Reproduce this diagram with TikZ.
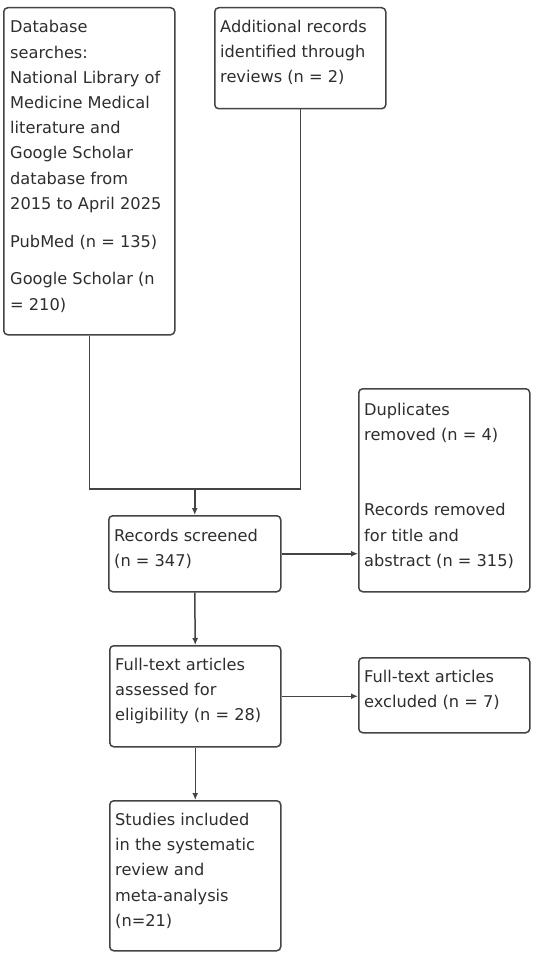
\documentclass[tikz,border=0pt]{standalone}
\usepackage{fontspec}
\setmainfont{DejaVu Sans}
\usetikzlibrary{arrows.meta,calc}
\definecolor{linec}{HTML}{444444}
\definecolor{textc}{HTML}{2E2E2E}
\newcommand{\boxtext}[1]{\parbox[t]{165pt}{\raggedright #1}}
\tikzset{
  box/.style={draw=linec, line width=1.5pt, rounded corners=4pt, fill=white, inner sep=0pt, anchor=north west},
  txt/.style={anchor=base west, inner sep=0pt, text=textc,
    font=\fontsize{16.2pt}{25.2pt}\selectfont},
  conn/.style={draw=linec, line width=1.5pt},
  arr/.style={conn, -{Latex[length=7pt,width=6pt]}},
}
\begin{document}
\begin{tikzpicture}[x=1pt,y=-1pt]
\useasboundingbox (0,0) rectangle (544,960);
\fill[white] (0,0) rectangle (544,960);

% boxes
\node[box, minimum width=171pt, minimum height=327pt] (db) at (3,7) {};
\node[box, minimum width=171pt, minimum height=101pt] (ab) at (214,7) {};
\node[box, minimum width=172pt, minimum height=76pt] (scr) at (108,515) {};
\node[box, minimum width=171pt, minimum height=203pt] (rem) at (358,388) {};
\node[box, minimum width=171pt, minimum height=101pt] (ft) at (109,645) {};
\node[box, minimum width=171pt, minimum height=75pt] (ex) at (358,657) {};
\node[box, minimum width=171pt, minimum height=150pt] (st) at (109,800) {};

% texts
\node[txt] (dbt) at ($(db.north west)+(7,26)$) {\boxtext{Database\\searches:\\National Library of\\Medicine Medical\\literature and\\Google Scholar\\database from\\2015 to April 2025\\[12.6pt]PubMed (n = 135)\\[12.6pt]Google Scholar (n\\= 210)}};
\node[txt] (abt) at ($(ab.north west)+(6,25.5)$) {\boxtext{Additional records\\identified through\\reviews (n = 2)}};
\node[txt] (scrt) at ($(scr.north west)+(6,26)$) {\boxtext{Records screened\\(n = 347)}};
\node[txt] (remt) at ($(rem.north west)+(6,27)$) {\boxtext{Duplicates\\removed (n = 4)\\[50.4pt]Records removed\\for title and\\abstract (n = 315)}};
\node[txt] (ftt) at ($(ft.north west)+(6,25.5)$) {\boxtext{Full-text articles\\assessed for\\eligibility (n = 28)}};
\node[txt] (ext) at ($(ex.north west)+(6,25.5)$) {\boxtext{Full-text articles\\excluded (n = 7)}};
\node[txt] (stt) at ($(st.north west)+(6,25.5)$) {\boxtext{Studies included\\in the systematic\\review and\\meta-analysis\\(n=21)}};

% connectors
\coordinate (j) at (scr.north |- 0,489);
\draw[conn] (db.south) |- (ab.south |- j) -- (ab.south);
\draw[arr] (j) -- (scr.north);
\draw[arr] (scr.east) -- (scr.east -| rem.west);
\draw[arr] (scr.south) -- (ft.north);
\draw[arr] (ft.east) -- (ft.east -| ex.west);
\draw[arr] (ft.south) -- (st.north);
\end{tikzpicture}
\end{document}
